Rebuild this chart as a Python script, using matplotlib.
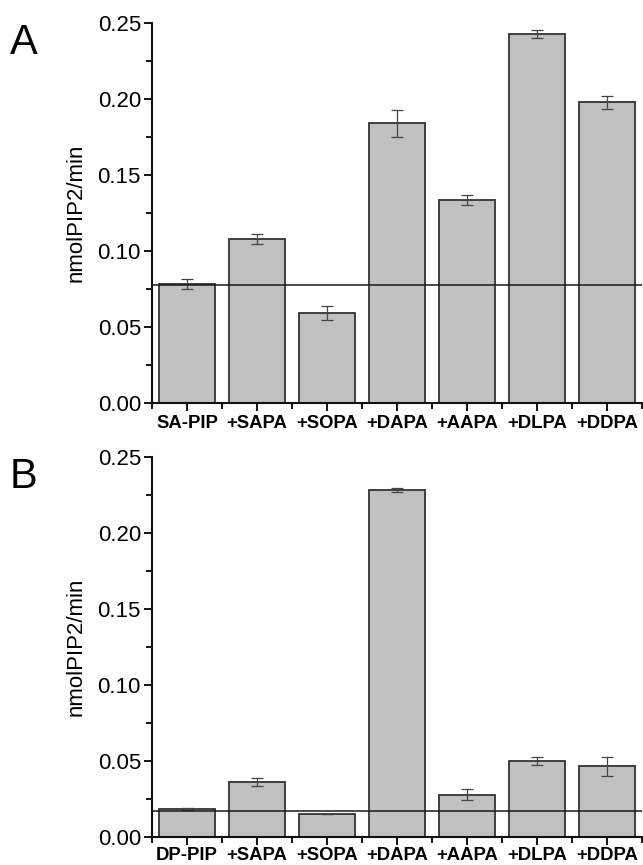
import matplotlib
matplotlib.use("Agg")
import matplotlib.pyplot as plt
from matplotlib.ticker import MultipleLocator, FixedLocator
import numpy as np

plt.rcParams['font.family'] = ['Liberation Sans', 'DejaVu Sans']

labels_a = ["SA-PIP", "+SAPA", "+SOPA", "+DAPA", "+AAPA", "+DLPA", "+DDPA"]
values_a = [0.0783, 0.1081, 0.0594, 0.1840, 0.1334, 0.2428, 0.1978]
errors_a = [0.0033, 0.0034, 0.0045, 0.0088, 0.0033, 0.0029, 0.0044]
baseline_a = 0.0776

labels_b = ["DP-PIP", "+SAPA", "+SOPA", "+DAPA", "+AAPA", "+DLPA", "+DDPA"]
values_b = [0.0184, 0.0362, 0.0151, 0.2283, 0.0279, 0.0498, 0.0465]
errors_b = [0.0004, 0.0024, 0.0002, 0.0010, 0.0038, 0.0026, 0.0063]
baseline_b = 0.0174

yticks = [0.00, 0.05, 0.10, 0.15, 0.20, 0.25]
ylabel = "nmolPIP2/min"

W, H = 643, 865
fig = plt.figure(figsize=(W / 100, H / 100), dpi=100)

def make_axes(top_px, bottom_px):
    left_px, right_px = 152, 642
    return fig.add_axes([left_px / W, 1 - bottom_px / H,
                         (right_px - left_px) / W, (bottom_px - top_px) / H])

def draw(ax, labels, values, errors, baseline, letter, xpad):
    x = np.arange(len(labels))
    ax.bar(x, values, width=0.8, color="#c0c0c0", edgecolor="#333333",
           linewidth=1.3, zorder=2)
    ax.errorbar(x, values, yerr=errors, fmt="none", ecolor="#444444",
                elinewidth=0.9, capsize=4, capthick=0.9, zorder=3)
    ax.axhline(baseline, color="#1a1a1a", linewidth=1.1, zorder=4)
    ax.set_xlim(-0.5, len(labels) - 0.5)
    ax.set_ylim(0, 0.25)
    ax.set_yticks(yticks)
    ax.set_yticklabels([f"{v:.2f}" for v in yticks])
    ax.yaxis.set_minor_locator(MultipleLocator(0.025))
    ax.set_xticks(x)
    ax.set_xticklabels(labels, fontweight="bold", fontsize=13.3)
    ax.xaxis.set_minor_locator(FixedLocator(np.arange(-0.5, len(labels), 1.0)))
    for s in ["top", "right"]:
        ax.spines[s].set_visible(False)
    for s in ["left", "bottom"]:
        ax.spines[s].set_linewidth(1.5)
        ax.spines[s].set_color("#111111")
    ax.tick_params(axis="y", which="major", length=6, width=1.3, labelsize=16, pad=2)
    ax.tick_params(axis="y", which="minor", length=4, width=1.3)
    ax.tick_params(axis="x", which="major", length=6, width=1.3, pad=xpad)
    ax.tick_params(axis="x", which="minor", length=4, width=1.3)
    ax.set_ylabel(ylabel, fontsize=16, labelpad=8)
    ax.text(10 / 490 - 152 / 490, 1.0, letter, transform=ax.transAxes,
            fontsize=30, ha="left", va="top")

ax_a = make_axes(23, 403)
draw(ax_a, labels_a, values_a, errors_a, baseline_a, "A", 3)
ax_b = make_axes(457, 837)
draw(ax_b, labels_b, values_b, errors_b, baseline_b, "B", 1)

fig.savefig("out.png", dpi=100)
